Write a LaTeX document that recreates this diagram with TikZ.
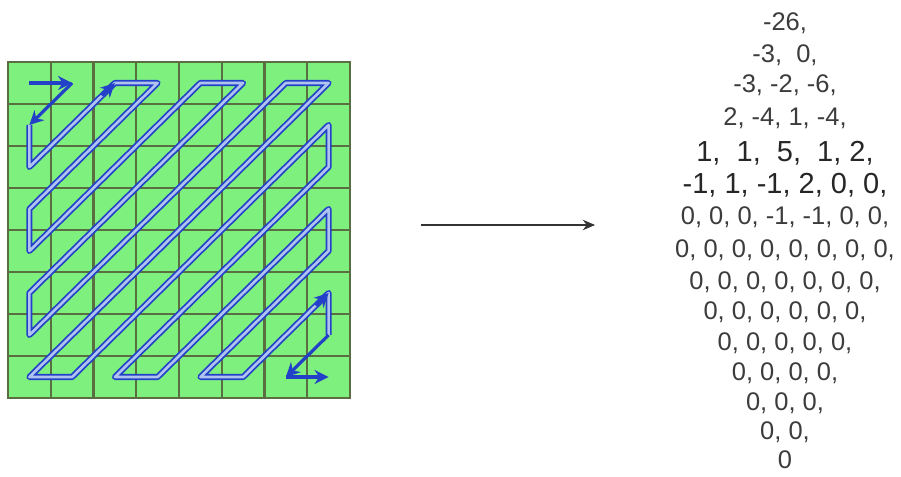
\documentclass[tikz,border=0pt]{standalone}
\usepackage{fontspec}
\setmainfont{Liberation Sans}
\usetikzlibrary{arrows.meta,calc}
\definecolor{cellgreen}{RGB}{126,240,126}
\definecolor{gridgray}{RGB}{90,110,65}
\definecolor{zigblue}{RGB}{35,65,200}
\definecolor{ziglight}{RGB}{175,195,240}
\definecolor{numgray}{RGB}{60,60,60}

\begin{document}
\begin{tikzpicture}[
    cell/.style={rectangle, draw=gridgray, line width=1.2pt, fill=cellgreen, minimum width=0.855cm, minimum height=0.84cm, inner sep=0pt},
    zigzag/.style={draw=zigblue, line width=1pt, double=ziglight, double distance=1.5pt, line join=round},
    zigtip/.style={draw=zigblue, line width=1.8pt, -{Stealth[length=8pt,width=8pt]}},
    num/.style={text=numgray, font=\fontsize{14.5}{17}\selectfont},
    bignum/.style={text=black!85, font=\fontsize{16.5}{19}\selectfont}
]
        \useasboundingbox (0,0) rectangle (18.02,-9.54);

        % 8x8 block
        \foreach \i in {0,...,7}
            \foreach \j in {0,...,7}
                \node[cell] (c\i\j) at ({0.5875+0.855*\i},{-1.66-0.84*\j}) {};

        % zigzag scan
        \draw[zigzag] (c01.center) -- (c02.center) -- (c20.center) -- (c30.center)
            -- (c03.center) -- (c04.center) -- (c40.center) -- (c50.center)
            -- (c05.center) -- (c06.center) -- (c60.center) -- (c70.center)
            -- (c07.center) -- (c17.center) -- (c71.center) -- (c72.center)
            -- (c27.center) -- (c37.center) -- (c73.center) -- (c74.center)
            -- (c47.center) -- (c57.center) -- (c75.center) -- (c76.center);
        \draw[zigtip] (c00.center) -- (c10.center);
        \draw[zigtip] (c10.center) -- (c01.center);
        \draw[zigtip] ($(c02.center)!0.85!(c20.center)$) -- (c20.center);
        \draw[zigtip] ($(c57.center)!0.85!(c75.center)$) -- (c75.center);
        \draw[zigtip] (c76.center) -- (c67.center);
        \draw[zigtip] (c67.center) -- (c77.center);

        \coordinate (a) at (8.42,-4.5);
        \coordinate (b) at (11.9,-4.5);
        \draw[-{Stealth[length=7pt,width=6pt]}, line width=0.6pt, black!80] (a) -- (b);

        % scanned coefficients
        \node[num] (r1) at (15.7,-0.46) {-26,};
        \node[num] (r2) at (15.7,-1.10) {-3,\ \ 0,};
        \node[num] (r3) at (15.7,-1.70) {-3, -2, -6,};
        \node[num] (r4) at (15.7,-2.36) {2, -4, 1, -4,};
        \node[bignum] (r5) at (15.7,-3.06) {1,\ \ 1,\ \ 5,\ \ 1, 2,};
        \node[bignum] (r6) at (15.7,-3.70) {-1, 1, -1, 2, 0, 0,};
        \node[num] (r7) at (15.7,-4.34) {0, 0, 0, -1, -1, 0, 0,};
        \node[num] (r8) at (15.7,-5.00) {0, 0, 0, 0, 0, 0, 0, 0,};
        \node[num] (r9) at (15.7,-5.64) {0, 0, 0, 0, 0, 0, 0,};
        \node[num] (r10) at (15.7,-6.24) {0, 0, 0, 0, 0, 0,};
        \node[num] (r11) at (15.7,-6.86) {0, 0, 0, 0, 0,};
        \node[num] (r12) at (15.7,-7.46) {0, 0, 0, 0,};
        \node[num] (r13) at (15.7,-8.06) {0, 0, 0,};
        \node[num] (r14) at (15.7,-8.64) {0, 0,};
        \node[num] (r15) at (15.7,-9.20) {0};

\end{tikzpicture}
\end{document}
